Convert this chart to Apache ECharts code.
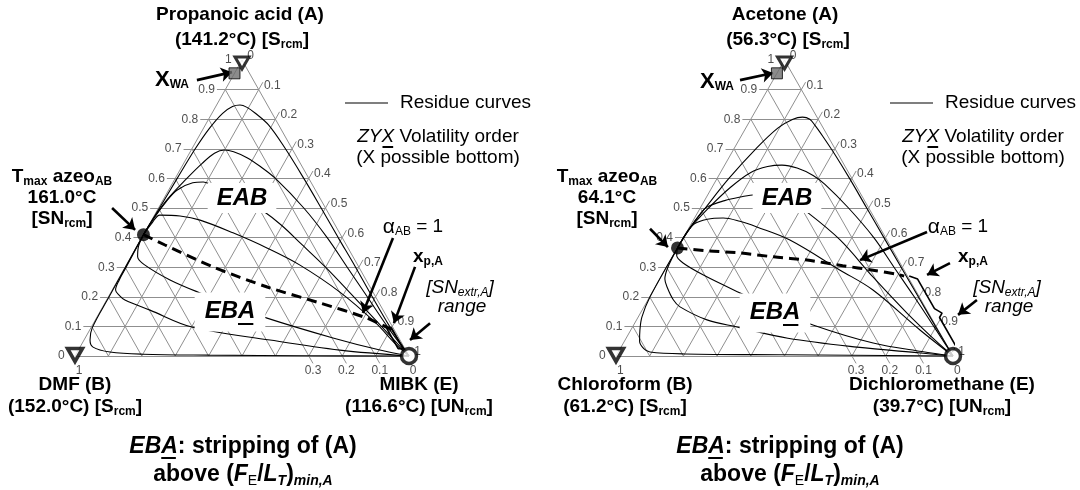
<!DOCTYPE html>
<html>
<head>
<meta charset="utf-8">
<script src="https://cdn.jsdelivr.net/npm/echarts@6.0.0/dist/echarts.min.js"></script>
<style>
html,body{margin:0;padding:0;background:#fff;}
#chart{width:1080px;height:490px;}
</style>
</head>
<body>
<div id="chart"></div>
<script>
// ---------------- DATA ----------------
const gridTicks = [0.1, 0.2, 0.3, 0.4, 0.5, 0.6, 0.7, 0.8, 0.9];
const sideTickValues = [0, 0.1, 0.2, 0.3, 0.4, 0.5, 0.6, 0.7, 0.8, 0.9, 1];
const sideTickLabels = ['0', '0.1', '0.2', '0.3', '0.4', '0.5', '0.6', '0.7', '0.8', '0.9', '1'];
const baseTickValues = [1, 0.3, 0.2, 0.1, 0];
const baseTickLabels = ['1', '0.3', '0.2', '0.1', '0'];

// compositions as [x_A, x_E]   (x_B = 1 - x_A - x_E)
// Left: Propanoic acid (A) - DMF (B) - MIBK (E)
const L_azeo = [0.41, 0];
const L_xwa = [0.955, 0];
const L_rc1 = [[0.41,0],[0.5,0.003],[0.6,0.006],[0.7,0.01],[0.77,0.018],[0.82,0.032],[0.843,0.05],[0.848,0.07],[0.84,0.095],[0.82,0.13],[0.78,0.19],[0.7,0.28],[0.6,0.385],[0.5,0.487],[0.4,0.588],[0.3,0.69],[0.2,0.79],[0.1,0.892],[0,1]];
const L_rc2 = [[0.41,0],[0.47,0.003],[0.53,0.012],[0.6,0.035],[0.65,0.055],[0.685,0.075],[0.696,0.1],[0.69,0.13],[0.67,0.18],[0.64,0.235],[0.6,0.3],[0.5,0.435],[0.4,0.555],[0.3,0.665],[0.2,0.775],[0.1,0.885],[0,1]];
const L_rc3 = [[0.41,0],[0.47,0.004],[0.52,0.012],[0.56,0.025],[0.585,0.06],[0.588,0.09],[0.578,0.121],[0.56,0.17],[0.53,0.24],[0.493,0.313],[0.44,0.4],[0.382,0.483],[0.3,0.6],[0.213,0.717],[0.098,0.87],[0,1]];
const L_rc4 = [[0.41,0],[0.45,0.006],[0.476,0.016],[0.473,0.078],[0.459,0.145],[0.416,0.265],[0.365,0.392],[0.307,0.52],[0.216,0.685],[0.115,0.84],[0.04,0.94],[0,1]];
const L_rc5 = [[0.41,0],[0.37,0.005],[0.335,0.02],[0.307,0.056],[0.257,0.156],[0.213,0.268],[0.17,0.39],[0.128,0.511],[0.061,0.742],[0.02,0.903],[0,1]];
const L_rc6 = [[0.41,0],[0.3,0.003],[0.257,0.004],[0.223,0.01],[0.205,0.03],[0.189,0.055],[0.155,0.147],[0.098,0.301],[0.054,0.557],[0.02,0.783],[0,1]];
const L_rc7 = [[0.41,0],[0.2,0.002],[0.095,0.004],[0.054,0.018],[0.03,0.039],[0.0135,0.098],[0.006,0.2],[0.003,0.4],[0.001,0.7],[0,1]];
const L_alpha = [[0.41,0],[0.375,0.082],[0.301,0.263],[0.233,0.459],[0.182,0.634],[0.128,0.81],[0.088,0.905]];
const L_snRange = [[0.095,0.885],[0.025,0.955],[0.025,0.97],[0.095,0.9],[0.095,0.885]];

// Right: Acetone (A) - Chloroform (B) - Dichloromethane (E)
const R_azeo = [0.365, 0];
const R_xwa = [0.955, 0];
const R_rc1 = [[0.365,0],[0.426,0.002],[0.5,0.015],[0.6,0.035],[0.7,0.065],[0.77,0.095],[0.8,0.125],[0.807,0.15],[0.8,0.175],[0.78,0.2],[0.74,0.245],[0.68,0.31],[0.6,0.393],[0.5,0.494],[0.4,0.595],[0.3,0.696],[0.2,0.797],[0.1,0.898],[0,1]];
const R_rc2 = [[0.365,0],[0.426,0.003],[0.5,0.025],[0.57,0.055],[0.62,0.09],[0.64,0.13],[0.645,0.17],[0.635,0.22],[0.61,0.28],[0.58,0.33],[0.5,0.44],[0.4,0.565],[0.3,0.675],[0.2,0.785],[0.1,0.893],[0,1]];
const R_rc3 = [[0.365,0],[0.43,0.003],[0.48,0.01],[0.503,0.018],[0.525,0.06],[0.537,0.1],[0.545,0.14],[0.54,0.2],[0.52,0.26],[0.486,0.324],[0.392,0.469],[0.267,0.629],[0.145,0.791],[0.05,0.925],[0,1]];
const R_rc4 = [[0.365,0],[0.415,0.002],[0.445,0.008],[0.462,0.04],[0.466,0.085],[0.455,0.14],[0.436,0.2],[0.392,0.32],[0.29,0.52],[0.223,0.651],[0.088,0.858],[0,1]];
const R_rc5 = [[0.365,0],[0.34,0.01],[0.314,0.042],[0.27,0.13],[0.213,0.262],[0.16,0.39],[0.105,0.532],[0.044,0.741],[0.015,0.9],[0,1]];
const R_rc6 = [[0.365,0],[0.3,0.004],[0.26,0.015],[0.233,0.035],[0.19,0.075],[0.166,0.107],[0.122,0.209],[0.098,0.31],[0.06,0.48],[0.03,0.7],[0.01,0.9],[0,1]];
const R_rc7 = [[0.365,0],[0.2,0.001],[0.132,0.011],[0.088,0.027],[0.05,0.045],[0.025,0.07],[0.0135,0.094],[0.007,0.2],[0.004,0.5],[0,1]];
const R_alpha = [[0.365,0],[0.355,0.1],[0.348,0.194],[0.335,0.3],[0.324,0.405],[0.305,0.52],[0.29,0.618],[0.275,0.7],[0.27,0.72]];
const R_snRange = [[0.27,0.735],[0.26,0.765],[0.16,0.865],[0.145,0.895],[0.13,0.895],[0.03,0.995],[0.015,0.99]];

// ---------------- BUILD ----------------
const FONT = '"Liberation Sans", Arial, Helvetica, sans-serif';
const EXT = 0.025;
function cart(p) { return [p[1] + p[0] / 2, p[0]]; }

const panels = [
  { grid: {left: 75, top: 60, width: 334, height: 296},
    curves: [L_rc1, L_rc2, L_rc3, L_rc4, L_rc5, L_rc6, L_rc7],
    alpha: L_alpha, azeo: L_azeo, xwa: L_xwa, range: L_snRange,
    arrows: [[[0.365,0.932],[0.47,0.959]], [[0.111,0.5],[0.18,0.426]], [[0.952,0.399],[0.862,0.145]], [[1.018,0.301],[0.955,0.111]], [[1.063,0.111],[1.003,0.054]]] },
  { grid: {left: 616, top: 60, width: 337, height: 296},
    curves: [R_rc1, R_rc2, R_rc3, R_rc4, R_rc5, R_rc6, R_rc7],
    alpha: R_alpha, azeo: R_azeo, xwa: R_xwa, range: R_snRange,
    arrows: [[[0.368,0.932],[0.466,0.956]], [[0.101,0.43],[0.154,0.368]], [[0.923,0.419],[0.724,0.324]], [[0.991,0.314],[0.923,0.274]], [[1.071,0.189],[1.015,0.139]]] }
];

function gridSegments() {
  const segs = [];
  gridTicks.forEach(v => {
    segs.push([cart([v, -EXT]), cart([v, 1 - v])]);
    segs.push([cart([0, v]), cart([1 - v + EXT, v])]);
    const t = baseTickValues.includes(v) ? EXT : 0;
    segs.push([cart([-t, 1 - v + t]), cart([1 - v, 0])]);
  });
  segs.push([cart([0, 0]), cart([0, 1])]);
  segs.push([cart([0, 0]), cart([1, 0])]);
  segs.push([cart([0, 1]), cart([1, 0])]);
  return segs.map(c => ({coords: c}));
}

const tickLabelStyle = {fontFamily: FONT, fontSize: 12, color: '#222'};
const series = [];
const grids = [], xAxes = [], yAxes = [];
const triPath = 'path://M0,0L20,0L10,17Z';

panels.forEach((p, i) => {
  grids.push(p.grid);
  xAxes.push({gridIndex: i, type: 'value', min: 0, max: 1, show: false});
  yAxes.push({gridIndex: i, type: 'value', min: 0, max: 1, show: false});
  const ax = {xAxisIndex: i, yAxisIndex: i};
  series.push(Object.assign({type: 'lines', coordinateSystem: 'cartesian2d', data: gridSegments(), clip: false, silent: true, z: 1,
    lineStyle: {color: '#8f8f8f', width: 1, opacity: 1}}, ax));
  const lab = [];
  sideTickValues.forEach((v, k) => {
    lab.push({value: cart([v, -EXT]), label: {show: true, position: 'left', distance: 2, formatter: sideTickLabels[k], ...tickLabelStyle}});
    lab.push({value: cart([1 - v + EXT, v]), label: {show: true, position: 'right', distance: 1, offset: [0, 3], formatter: sideTickLabels[k], ...tickLabelStyle}});
  });
  baseTickValues.forEach((v, k) => {
    lab.push({value: cart([-EXT, 1 - v + EXT]), label: {show: true, position: 'bottom', distance: 1, formatter: baseTickLabels[k], ...tickLabelStyle}});
  });
  series.push(Object.assign({type: 'scatter', data: lab, symbolSize: 0, silent: true, z: 2, clip: false}, ax));
  p.curves.forEach(c => {
    series.push(Object.assign({type: 'line', data: c.map(cart), smooth: 0.35, symbol: 'none', clip: false, silent: true, z: 3,
      lineStyle: {color: '#000', width: 1.1}}, ax));
  });
  series.push(Object.assign({type: 'line', data: p.alpha.map(cart), smooth: 0.3, symbol: 'none', clip: false, silent: true, z: 4,
    lineStyle: {color: '#000', width: 3, type: [10, 6]}}, ax));
  series.push(Object.assign({type: 'line', data: p.range.map(cart), symbol: 'none', clip: false, silent: true, z: 4,
    lineStyle: {color: '#000', width: 1.6}}, ax));
  series.push(Object.assign({type: 'lines', coordinateSystem: 'cartesian2d', clip: false, silent: true, z: 6,
    symbol: ['none', 'arrow'], symbolSize: 11,
    data: p.arrows.map(a => ({coords: a})),
    lineStyle: {color: '#000', width: 2.6, opacity: 1}}, ax));
  series.push(Object.assign({type: 'scatter', clip: false, silent: true, z: 7,
    data: [
      {value: cart(p.xwa), symbol: 'rect', symbolSize: 11, itemStyle: {color: '#6e6e6e', borderColor: '#000', borderWidth: 1}},
      {value: cart([1, 0]), symbol: triPath, symbolSize: [14, 12], symbolOffset: [0, 3], itemStyle: {color: '#fff', borderColor: '#000', borderWidth: 3}},
      {value: cart([0, 0]), symbol: triPath, symbolSize: [15, 13], symbolOffset: [0, -1], itemStyle: {color: '#fff', borderColor: '#000', borderWidth: 3.5}},
      {value: cart([0, 1]), symbol: 'circle', symbolSize: 15, itemStyle: {color: '#fff', borderColor: '#000', borderWidth: 3.5}},
      {value: cart(p.azeo), symbol: 'circle', symbolSize: 13, itemStyle: {color: '#000'}}
    ]}, ax));
});

// ---------------- TEXT ----------------
const mctx = document.createElement('canvas').getContext('2d');
function mw(font, s) { mctx.font = font; return mctx.measureText(s).width; }

function richSet(fs) {
  const sub = Math.round(fs * 0.63), pad = Math.round(fs * 0.5);
  return {
    b: {fontFamily: FONT, fontSize: fs, fontWeight: 'bold', color: '#000'},
    r: {fontFamily: FONT, fontSize: fs, fontWeight: 'normal', color: '#000'},
    i: {fontFamily: FONT, fontSize: fs, fontStyle: 'italic', color: '#000'},
    bi: {fontFamily: FONT, fontSize: fs, fontWeight: 'bold', fontStyle: 'italic', color: '#000'},
    sb: {fontFamily: FONT, fontSize: sub, fontWeight: 'bold', color: '#000', padding: [pad, 0, 0, 0]},
    sr: {fontFamily: FONT, fontSize: sub, fontWeight: 'normal', color: '#000', padding: [pad, 0, 0, 0]},
    si: {fontFamily: FONT, fontSize: sub, fontStyle: 'italic', color: '#000', padding: [pad, 0, 0, 0]},
    sbi: {fontFamily: FONT, fontSize: sub, fontWeight: 'bold', fontStyle: 'italic', color: '#000', padding: [pad, 0, 0, 0]},
    big: {fontFamily: FONT, fontSize: fs + 3, fontWeight: 'bold', color: '#000'},
    al: {fontFamily: FONT, fontSize: fs + 2, fontWeight: 'normal', color: '#000'}
  };
}
const R19 = richSet(19), R23 = richSet(23);

function T(x, y, text, weight, opts) {
  const st = Object.assign({text: text, fontFamily: FONT, fontSize: 19, fontWeight: weight || 'bold', fill: '#000',
    align: 'center', verticalAlign: 'middle', rich: R19}, opts || {});
  return {type: 'text', x: x, y: y, z: 100, style: st};
}
function U(x1, x2, y) { return {type: 'rect', z: 102, shape: {x: x1, y: y, width: x2 - x1, height: 2}, style: {fill: '#000'}}; }

const g = [];
function panelText(o) {
  g.push(T(o.titleX, 15, o.title));
  g.push(T(o.title2X, 40, o.title2));
  g.push(T(o.xwa[0], o.xwa[1], '{big|X}{sb|WA}'));
  g.push({type: 'line', z: 100, shape: {x1: o.leg[0], y1: 103, x2: o.leg[0] + 43, y2: 103}, style: {stroke: '#000', lineWidth: 1.2}});
  g.push(T(o.leg[0] + 55, 103, 'Residue curves', 'normal', {align: 'left'}));
  {
    const f = '19px ' + FONT, fi = 'italic 19px ' + FONT;
    const w1 = mw(fi, 'ZY'), w2 = mw(fi, 'X'), w3 = mw(f, ' Volatility order');
    const x0 = o.zyx[0] - (w1 + w2 + w3) / 2;
    g.push(T(o.zyx[0], o.zyx[1], '{i|ZYX} Volatility order', 'normal'));
    g.push(U(x0 + w1 + 1, x0 + w1 + w2 - 1, o.zyx[1] + 9));
    g.push(T(o.zyx[0], o.zyx[1] + 21, '(X possible bottom)', 'normal'));
  }
  g.push(T(o.alpha[0], o.alpha[1], '{al|α}{sr|AB} = 1', 'normal'));
  g.push(T(o.xp[0], o.xp[1], 'x{sb|p,A}'));
  g.push(T(o.sn[0], o.sn[1], '[SN{si|extr,A}]', 'normal', {fontStyle: 'italic'}));
  g.push(T(o.sn[0] + 2, o.sn[1] + 19, 'range', 'normal', {fontStyle: 'italic'}));
  g.push(T(o.tmax[0], o.tmax[1], 'T{sb|max} azeo{sb|AB}'));
  g.push(T(o.tmax[0], o.tmax[1] + 21, o.tmaxT));
  g.push(T(o.tmax[0], o.tmax[1] + 42, '[SN{sb|rcm}]'));
  g.push(T(o.bName[0], 385, o.bName[1]));
  g.push(T(o.bName[0], 407, o.bTemp));
  g.push(T(o.eName[0], 385, o.eName[1]));
  g.push(T(o.eName[0], 407, o.eTemp));
  g.push(T(o.eab[0], o.eab[1], 'EAB', 'bold', {fontStyle: 'italic', fontSize: 24, backgroundColor: '#fff', padding: [3, 9, 3, 9]}));
  {
    const fb = 'italic bold 24px ' + FONT;
    const w1 = mw(fb, 'EB'), w2 = mw(fb, 'A');
    const x0 = o.eba[0] - (w1 + w2) / 2;
    g.push(T(o.eba[0], o.eba[1], 'EBA', 'bold', {fontStyle: 'italic', fontSize: 24, backgroundColor: '#fff', padding: [7, 10, 8, 10]}));
    g.push(U(x0 + w1, x0 + w1 + w2 - 2, o.eba[1] + 11));
  }
  {
    const fb = 'bold 23px ' + FONT, fbi = 'italic bold 23px ' + FONT;
    const w1 = mw(fbi, 'EB'), w2 = mw(fbi, 'A'), w3 = mw(fb, ': stripping of (A)');
    const x0 = o.cap - (w1 + w2 + w3) / 2;
    g.push(T(o.cap, 447, '{bi|EBA}{b|: stripping of (A)}', 'bold', {fontSize: 23, rich: R23}));
    g.push(U(x0 + w1, x0 + w1 + w2 - 2, 447 + 10));
    g.push(T(o.cap, 475, '{b|above (}{bi|F}{sr|E}{b|/}{bi|L}{sbi|T}{b|)}{sbi|min,A}', 'bold', {fontSize: 23, rich: R23}));
  }
}

panelText({
  titleX: 240, title: 'Propanoic acid (A)', title2X: 242, title2: '(141.2°C) [S{sb|rcm}]',
  xwa: [172, 80], leg: [345], zyx: [438, 137], alpha: [413, 227], xp: [428, 257], sn: [460, 288],
  tmax: [62, 177], tmaxT: '161.0°C',
  bName: [75, 'DMF (B)'], bTemp: '(152.0°C) [S{sb|rcm}]',
  eName: [419, 'MIBK (E)'], eTemp: '(116.6°C) [UN{sb|rcm}]',
  eab: [242, 198], eba: [230, 312], cap: 243
});
panelText({
  titleX: 785, title: 'Acetone (A)', title2X: 788, title2: '(56.3°C) [S{sb|rcm}]',
  xwa: [717, 82], leg: [890], zyx: [983, 137], alpha: [958, 227], xp: [973, 257], sn: [1007, 288],
  tmax: [607, 177], tmaxT: '64.1°C',
  bName: [625, 'Chloroform (B)'], bTemp: '(61.2°C) [S{sb|rcm}]',
  eName: [942, 'Dichloromethane (E)'], eTemp: '(39.7°C) [UN{sb|rcm}]',
  eab: [787, 198], eba: [775, 313], cap: 790
});

const chart = echarts.init(document.getElementById('chart'), null, {renderer: 'canvas'});
chart.setOption({
  animation: false,
  backgroundColor: '#fff',
  grid: grids, xAxis: xAxes, yAxis: yAxes,
  series: series,
  graphic: {elements: g}
});
</script>
</body>
</html>
